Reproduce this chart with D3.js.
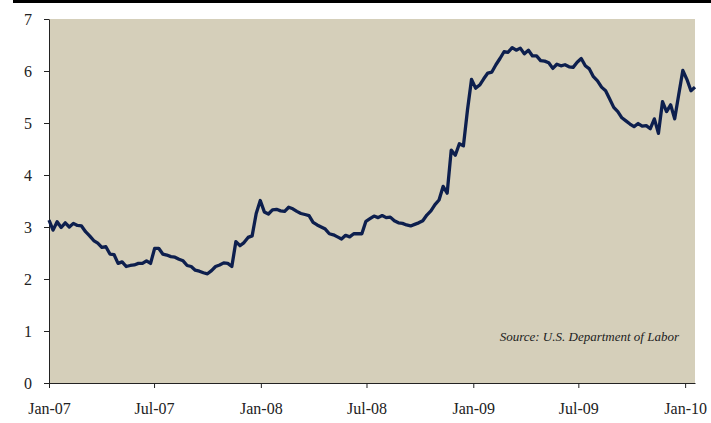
<!DOCTYPE html>
<html>
<head>
<meta charset="utf-8">
<script src="https://cdn.jsdelivr.net/npm/d3@7"></script>
<style>
  html, body { margin: 0; padding: 0; background: #ffffff; }
  svg { display: block; }
</style>
</head>
<body>
<svg id="chart" width="711" height="423"></svg>
<script>
// Weekly series, first week starting Jan 1, 2007
const startDate = new Date(2007, 0, 1);
const weekStep = 7; // days between observations

const values = [
  3.13, 2.94, 3.10, 2.99, 3.08, 3.00, 3.07, 3.03, 3.02, 2.91,
  2.83, 2.74, 2.69, 2.61, 2.62, 2.48, 2.47, 2.30, 2.33, 2.24,
  2.26, 2.27, 2.30, 2.30, 2.35, 2.30, 2.59, 2.59, 2.48, 2.46,
  2.43, 2.42, 2.38, 2.35, 2.26, 2.24, 2.17, 2.15, 2.12, 2.10,
  2.16, 2.24, 2.27, 2.31, 2.30, 2.24, 2.72, 2.64, 2.70, 2.80,
  2.83, 3.26, 3.51, 3.29, 3.25, 3.33, 3.34, 3.31, 3.30, 3.38,
  3.35, 3.30, 3.26, 3.24, 3.22, 3.09, 3.04, 3.00, 2.96, 2.87,
  2.85, 2.81, 2.77, 2.84, 2.81, 2.87, 2.87, 2.87, 3.11, 3.16,
  3.21, 3.18, 3.22, 3.18, 3.19, 3.12, 3.08, 3.07, 3.04, 3.02,
  3.05, 3.08, 3.12, 3.23, 3.31, 3.43, 3.52, 3.78, 3.65, 4.48,
  4.38, 4.60, 4.56, 5.25, 5.84, 5.67, 5.73, 5.85, 5.96, 5.98,
  6.12, 6.24, 6.37, 6.36, 6.45, 6.40, 6.44, 6.33, 6.40, 6.29,
  6.29, 6.20, 6.19, 6.16, 6.05, 6.13, 6.10, 6.12, 6.08, 6.07,
  6.17, 6.24, 6.10, 6.04, 5.89, 5.81, 5.69, 5.62, 5.46, 5.30,
  5.22, 5.10, 5.04, 4.98, 4.93, 4.99, 4.94, 4.95, 4.89, 5.08,
  4.80, 5.41, 5.22, 5.35, 5.08, 5.55, 6.01, 5.84, 5.62, 5.69
];

const yTicks = [0, 1, 2, 3, 4, 5, 6, 7];
const sourceNote = "Source: U.S. Department of Labor";

const data = values.map((v, i) => ({ date: d3.timeDay.offset(startDate, i * weekStep), value: v }));

const svg = d3.select("#chart");
const mLeft = 49, mRight = 695, mTop = 19, mBottom = 383;

const x = d3.scaleTime()
  .domain([data[0].date, data[data.length - 1].date])
  .range([mLeft, mRight]);
const y = d3.scaleLinear().domain([0, 7]).range([mBottom, mTop]);

// top rule
svg.append("rect").attr("x", 13).attr("y", 0).attr("width", 698).attr("height", 3).attr("fill", "#000");

// plot background
svg.append("rect")
  .attr("x", mLeft).attr("y", mTop)
  .attr("width", mRight - mLeft).attr("height", mBottom - mTop)
  .attr("fill", "#d5cfba");

const font = "'Liberation Serif', 'Times New Roman', serif";

// Y axis
const yAxis = svg.append("g")
  .attr("transform", `translate(${mLeft},0)`)
  .call(d3.axisLeft(y).tickValues(yTicks).tickFormat(d3.format("d")).tickSize(5).tickSizeOuter(0).tickPadding(12));
yAxis.select(".domain").attr("stroke", "#222");
yAxis.selectAll(".tick line").attr("stroke", "#222");
yAxis.selectAll("text").attr("font-family", font).attr("font-size", 16).attr("fill", "#222");

// X axis
const xAxis = svg.append("g")
  .attr("transform", `translate(0,${mBottom})`)
  .call(d3.axisBottom(x).ticks(d3.timeMonth.every(6)).tickFormat(d3.timeFormat("%b-%y")).tickSize(5).tickSizeOuter(0).tickPadding(15));
xAxis.select(".domain").attr("stroke", "#222");
xAxis.selectAll(".tick line").attr("stroke", "#222");
xAxis.selectAll("text").attr("font-family", font).attr("font-size", 16).attr("fill", "#222");

// line
const line = d3.line().x(d => x(d.date)).y(d => y(d.value));
svg.append("path")
  .datum(data)
  .attr("d", line)
  .attr("fill", "none")
  .attr("stroke", "#0d1f4e")
  .attr("stroke-width", 3.3)
  .attr("stroke-linejoin", "round");

// source note
svg.append("text")
  .attr("x", 679).attr("y", 341)
  .attr("text-anchor", "end")
  .attr("font-family", font)
  .attr("font-style", "italic")
  .attr("font-size", 13)
  .attr("fill", "#222")
  .text(sourceNote);
</script>
</body>
</html>
